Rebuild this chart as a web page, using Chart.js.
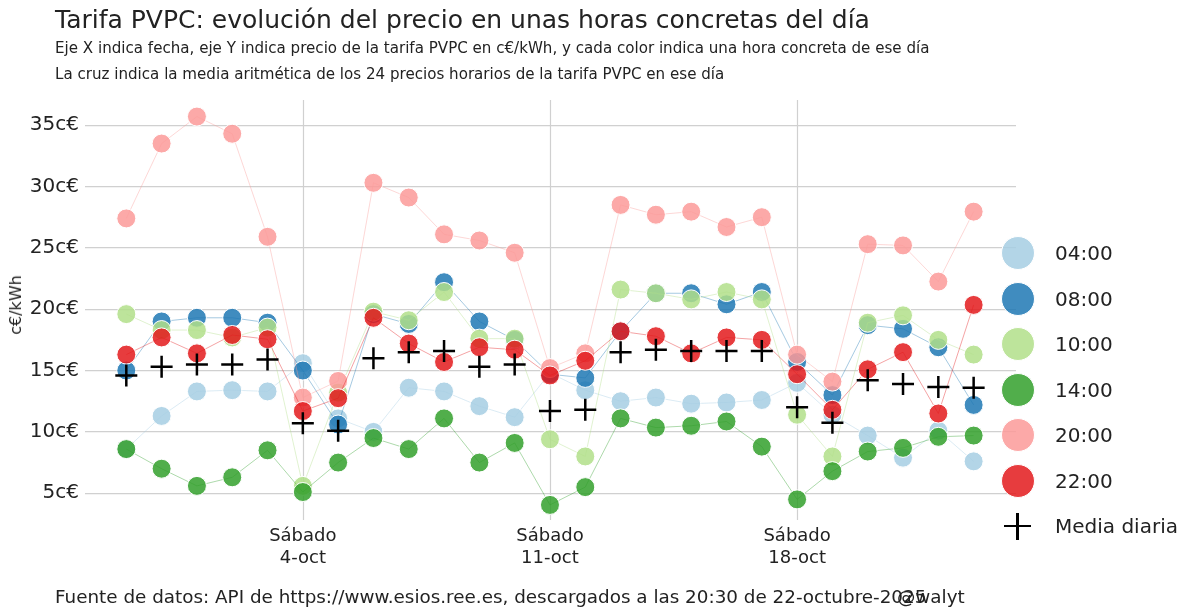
<!DOCTYPE html>
<html><head><meta charset="utf-8">
<script src="https://cdn.jsdelivr.net/npm/chart.js@4.4.1/dist/chart.umd.min.js"></script>
<style>
html,body{margin:0;padding:0;background:#fff;}
body{width:1199px;height:613px;position:relative;overflow:hidden;font-family:"DejaVu Sans",sans-serif;color:#222;}
#c{position:absolute;left:0;top:0;}
.t{position:absolute;white-space:nowrap;line-height:1;}
.dot{position:absolute;width:34px;height:34px;border-radius:50%;box-sizing:border-box;border:1px solid #fff;}
.lt{position:absolute;left:1055px;font-size:20px;line-height:1;white-space:nowrap;color:#222;}
</style></head>
<body>
<canvas id="c" width="1199" height="613"></canvas>
<div class="t" style="left:55px;top:7px;font-size:25px;">Tarifa PVPC: evolución del precio en unas horas concretas del día</div>
<div class="t" style="left:55px;top:41px;font-size:15.1px;">Eje X indica fecha, eje Y indica precio de la tarifa PVPC en c€/kWh, y cada color indica una hora concreta de ese día</div>
<div class="t" style="left:55px;top:67px;font-size:15.1px;">La cruz indica la media aritmética de los 24 precios horarios de la tarifa PVPC en ese día</div>
<div class="t" style="left:55px;top:588px;font-size:18.35px;">Fuente de datos: API de https://www.esios.ree.es, descargados a las 20:30 de 22-octubre-2025</div>
<div class="t" style="left:897px;top:588px;font-size:18.35px;">@walyt</div>
<div class="t" style="left:16px;top:305px;font-size:16px;transform:translate(-50%,-50%) rotate(-90deg);">c€/kWh</div>
<div id="legend"></div>
<script>
// ---- Data ----
const fechas = ['29-sep','30-sep','1-oct','2-oct','3-oct','4-oct','5-oct','6-oct','7-oct','8-oct','9-oct','10-oct','11-oct','12-oct','13-oct','14-oct','15-oct','16-oct','17-oct','18-oct','19-oct','20-oct','21-oct','22-oct','23-oct'];
const diasTick = [5, 12, 19];
const nombreDiaTick = 'Sábado';
const yTicks = [5, 10, 15, 20, 25, 30, 35];
const horas = ['04:00','08:00','10:00','14:00','20:00','22:00'];
const h04 = [8.6, 11.3, 13.3, 13.4, 13.3, 15.6, 11.1, 10.0, 13.6, 13.3, 12.1, 11.2, 14.8, 13.4, 12.5, 12.8, 12.3, 12.4, 12.6, 14.0, 11.4, 9.7, 7.9, 10.1, 7.6];
const h08 = [15.0, 19.0, 19.3, 19.3, 18.9, 15.0, 10.6, 19.6, 18.8, 22.2, 19.0, 17.5, 14.7, 14.4, 18.2, 21.3, 21.3, 20.4, 21.4, 15.7, 13.0, 18.7, 18.4, 16.9, 12.2];
const h10 = [19.6, 18.3, 18.3, 17.7, 18.5, 5.6, 13.2, 19.8, 19.1, 21.4, 17.6, 17.6, 9.4, 8.0, 21.6, 21.3, 20.8, 21.4, 20.8, 11.4, 8.0, 18.9, 19.5, 17.5, 16.3];
const h14 = [8.6, 7.0, 5.6, 6.3, 8.5, 5.1, 7.5, 9.5, 8.6, 11.1, 7.5, 9.1, 4.05, 5.5, 11.1, 10.35, 10.5, 10.85, 8.8, 4.5, 6.8, 8.4, 8.7, 9.6, 9.7];
const h20 = [27.4, 33.5, 35.7, 34.3, 25.9, 12.8, 14.15, 30.3, 29.1, 26.1, 25.6, 24.6, 15.2, 16.4, 28.5, 27.7, 27.95, 26.7, 27.5, 16.3, 14.1, 25.3, 25.2, 22.25, 27.95];
const h22 = [16.3, 17.7, 16.4, 17.9, 17.55, 11.7, 12.75, 19.3, 17.2, 15.7, 16.9, 16.7, 14.6, 15.8, 18.2, 17.8, 16.4, 17.7, 17.5, 14.7, 11.8, 15.1, 16.5, 11.5, 20.35];
const media = [14.6, 15.3, 15.5, 15.5, 15.9, 10.7, 10.1, 16.0, 16.5, 16.6, 15.3, 15.5, 11.7, 11.8, 16.5, 16.7, 16.6, 16.6, 16.6, 12.0, 10.75, 14.2, 13.9, 13.65, 13.6];

// ---- Styles ----
const series = [h04, h08, h10, h14, h20, h22];
const rgb = [[166,206,227],[31,120,180],[178,223,138],[51,160,44],[251,154,153],[227,26,28]];
const fill = c => `rgba(${c[0]},${c[1]},${c[2]},0.85)`;
const line = c => `rgba(${c[0]},${c[1]},${c[2]},0.4)`;
const toXY = arr => arr.map((v, i) => ({x: i, y: v}));

const datasets = series.map((s, k) => ({
  label: horas[k],
  data: toXY(s),
  borderColor: line(rgb[k]),
  borderWidth: 1,
  backgroundColor: fill(rgb[k]),
  pointBackgroundColor: fill(rgb[k]),
  pointBorderColor: '#ffffff',
  pointBorderWidth: 1,
  pointRadius: 9.5,
  pointHoverRadius: 9.5,
  tension: 0,
  order: 6 - k
}));
datasets.push({
  label: 'Media diaria',
  data: toXY(media),
  showLine: false,
  pointStyle: 'cross',
  pointRadius: 11,
  pointHoverRadius: 11,
  pointBorderColor: '#000',
  pointBorderWidth: 2.5,
  borderColor: '#000',
  order: 0
});

// vertical grid lines at the x ticks, limited to the chart area
const vGrid = {
  id: 'vGrid',
  beforeDatasetsDraw(chart) {
    const {ctx, chartArea: a, scales: {x}} = chart;
    ctx.save();
    ctx.strokeStyle = '#d0d0d0';
    ctx.lineWidth = 1.2;
    x.ticks.forEach(t => {
      const px = Math.round(x.getPixelForValue(t.value)) + 0.5;
      ctx.beginPath(); ctx.moveTo(px, a.top); ctx.lineTo(px, a.bottom); ctx.stroke();
    });
    ctx.restore();
  }
};

new Chart(document.getElementById('c'), {
  type: 'line',
  data: { datasets },
  plugins: [vGrid],
  options: {
    responsive: false,
    animation: false,
    events: [],
    layout: { padding: { left: 0, top: 100, right: 183, bottom: 33 } },
    plugins: { legend: { display: false }, tooltip: { enabled: false } },
    scales: {
      x: {
        type: 'linear',
        min: -1.17, max: 25.2,
        border: { display: false },
        grid: { display: false },
        afterBuildTicks: s => { s.ticks = diasTick.map(v => ({value: v})); },
        afterFit: s => { s.height = 60; },
        ticks: {
          padding: -3,
          color: '#222',
          font: { family: 'DejaVu Sans', size: 18, lineHeight: 1.22 },
          maxRotation: 0, autoSkip: false,
          callback: v => [nombreDiaTick, fechas[v]]
        }
      },
      y: {
        min: 2.82, max: 37.05,
        border: { display: false },
        grid: { color: '#d0d0d0', lineWidth: 1.2, drawTicks: false },
        afterBuildTicks: s => { s.ticks = yTicks.map(v => ({value: v})); },
        afterFit: s => { s.width = 85; },
        ticks: {
          padding: 6,
          color: '#222',
          font: { family: 'DejaVu Sans', size: 20 },
          callback: v => v + 'c€'
        }
      }
    }
  }
});

// ---- Legend ----
const leg = document.getElementById('legend');
const ys = [253, 298.5, 344, 389.5, 435, 480.5];
horas.forEach((h, k) => {
  const d = document.createElement('div');
  d.className = 'dot';
  d.style.left = '1001px';
  d.style.top = (ys[k] - 17) + 'px';
  d.style.background = fill(rgb[k]);
  leg.appendChild(d);
  const t = document.createElement('div');
  t.className = 'lt';
  t.style.top = (ys[k] - 10) + 'px';
  t.textContent = h;
  leg.appendChild(t);
});
const crossY = 526;
const ch = document.createElement('div');
ch.style.cssText = `position:absolute;left:1004px;top:${crossY-1.25}px;width:27px;height:2.5px;background:#000;`;
leg.appendChild(ch);
const cv = document.createElement('div');
cv.style.cssText = `position:absolute;left:${1017.5-1.25}px;top:${crossY-13.5}px;width:2.5px;height:27px;background:#000;`;
leg.appendChild(cv);
const tm = document.createElement('div');
tm.className = 'lt';
tm.style.top = (crossY - 10) + 'px';
tm.textContent = 'Media diaria';
leg.appendChild(tm);
</script>
</body></html>
